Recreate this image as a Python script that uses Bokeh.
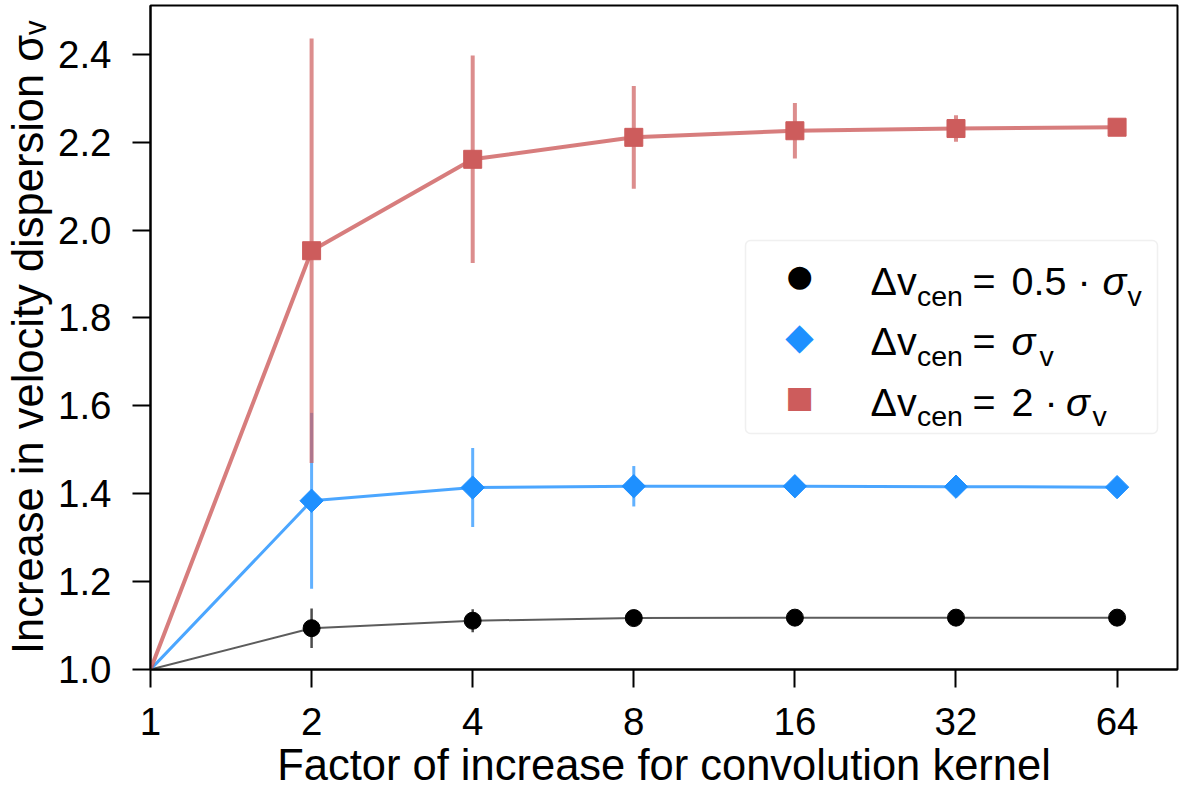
import numpy as np
from bokeh.plotting import figure
from bokeh.models import ColumnDataSource, FixedTicker, PrintfTickFormatter, Label, BoxAnnotation
from bokeh.embed import file_html
from bokeh.resources import INLINE

# ---------------- data ----------------
factor = [1, 2, 4, 8, 16, 32, 64]
half_mean = [1.000, 1.094, 1.111, 1.117, 1.118, 1.118, 1.118]
half_err = [0.0, 0.045, 0.026, 0.008, 0.004, 0.003, 0.002]
one_mean = [1.000, 1.384, 1.414, 1.417, 1.417, 1.416, 1.415]
one_err = [0.0, 0.200, 0.090, 0.046, 0.014, 0.008, 0.004]
two_mean = [1.000, 1.953, 2.161, 2.211, 2.226, 2.231, 2.234]
two_err = [0.0, 0.483, 0.236, 0.117, 0.063, 0.030, 0.012]
x_ticks = [1, 2, 4, 8, 16, 32, 64]
y_ticks = [1.0, 1.2, 1.4, 1.6, 1.8, 2.0, 2.2, 2.4]
x_label = "Factor of increase for convolution kernel"
y_label = "Increase in velocity dispersion σᵥ"

FONT = "Liberation Sans"

p = figure(width=1184, height=791, x_axis_type="log",
           x_range=(1, 83.0), y_range=(1.0, 2.511),
           output_backend="svg", toolbar_location=None,
           min_border_left=150, min_border_right=7,
           min_border_top=5, min_border_bottom=122)
p.grid.visible = False
p.outline_line_color = "black"
p.outline_line_width = 2
p.background_fill_color = "white"
p.border_fill_color = "white"

for ax in (p.xaxis[0], p.yaxis[0]):
    ax.axis_line_width = 2
    ax.axis_line_color = "black"
    ax.major_tick_line_width = 2
    ax.major_tick_line_color = "black"
    ax.major_tick_out = 18
    ax.major_tick_in = 0
    ax.minor_tick_line_color = None
    ax.major_label_text_font = FONT
    ax.major_label_text_font_size = "38.5px"
    ax.major_label_text_color = "black"
    ax.axis_label_text_font = FONT
    ax.axis_label_text_font_size = "43.5px"
    ax.axis_label_text_font_style = "normal"
    ax.axis_label_text_color = "black"

p.xaxis.ticker = FixedTicker(ticks=x_ticks, minor_ticks=[])
p.xaxis.formatter = PrintfTickFormatter(format="%d")
p.xaxis.major_label_standoff = 20
p.xaxis.axis_label = x_label
p.xaxis.axis_label_standoff = 3

p.yaxis.ticker = FixedTicker(ticks=y_ticks, minor_ticks=[])
p.yaxis.formatter = PrintfTickFormatter(format="%.1f")
p.yaxis.major_label_standoff = 21
p.yaxis.axis_label = y_label
p.yaxis.axis_label_standoff = 3

series = [
    dict(mean=half_mean, err=half_err, marker="circle", size=17, angle=0.0,
         color="#000000", lcolor="#333333", lw=2, elw=2.5),
    dict(mean=one_mean, err=one_err, marker="square", size=16.5, angle=np.pi / 4,
         color="#1E90FF", lcolor="#1E90FF", lw=3, elw=3),
    dict(mean=two_mean, err=two_err, marker="square", size=18, angle=0.0,
         color="#CD5C5C", lcolor="#CD5C5C", lw=4, elw=4),
]

for s in series:
    m = np.array(s["mean"])
    e = np.array(s["err"])
    src = ColumnDataSource(dict(x=factor, y=m, lo=m - e, hi=m + e))
    p.segment(x0="x", y0="lo", x1="x", y1="hi", source=src,
              line_color=s["color"], line_alpha=0.7, line_width=s["elw"])
    p.line("x", "y", source=src, line_color=s["lcolor"], line_alpha=0.8,
           line_width=s["lw"], line_join="round")
    msrc = ColumnDataSource(dict(x=factor[1:], y=list(m[1:])))
    p.scatter("x", "y", source=msrc, marker=s["marker"], size=s["size"],
              angle=s["angle"], fill_color=s["color"], line_color=s["color"],
              line_width=1)


def lab(text, x, y, size, style="normal", align="left", baseline="alphabetic",
        angle=0.0, font=FONT, color="black"):
    p.add_layout(Label(x=x, y=y, x_units="screen", y_units="screen", text=text,
                       text_font=font, text_font_size=size, text_font_style=style,
                       text_align=align, text_baseline=baseline, angle=angle,
                       text_color=color))


# legend box (screen units relative to the frame)
p.add_layout(BoxAnnotation(left=595, right=1007, bottom=236, top=429,
                           left_units="screen", right_units="screen",
                           bottom_units="screen", top_units="screen",
                           fill_color="white", fill_alpha=0.85,
                           line_color="#cccccc", line_width=1.5,
                           border_radius=5))

rows_y = [388.7, 328.3, 267.9]
keys = ["●", "◆", "■"]
key_sizes = ["30px", "37px", "30px"]
for i, (ky, kc) in enumerate(zip(keys, [s["color"] for s in series])):
    lab(ky, 649, rows_y[i] + 5, key_sizes[i], align="center", baseline="middle",
        font="DejaVu Sans", color=kc)

for yb in rows_y:
    lab("Δv", 720, yb, "39.5px")
    lab("cen", 766.5, yb - 14.7, "28.5px")
    lab("=", 822, yb, "39.5px")

lab("0.5 ·", 861, rows_y[0], "39.5px")
lab("σ", 952, rows_y[0], "39.5px", style="italic")
lab("v", 977, rows_y[0] - 14.7, "28.5px")

lab("σ", 861, rows_y[1], "39.5px", style="italic")
lab("v", 889, rows_y[1] - 14.7, "28.5px")

lab("2 ·", 861, rows_y[2], "39.5px")
lab("σ", 915.6, rows_y[2], "39.5px", style="italic")
lab("v", 942, rows_y[2] - 14.7, "28.5px")

open("out.html", "w").write(file_html(p, INLINE))
